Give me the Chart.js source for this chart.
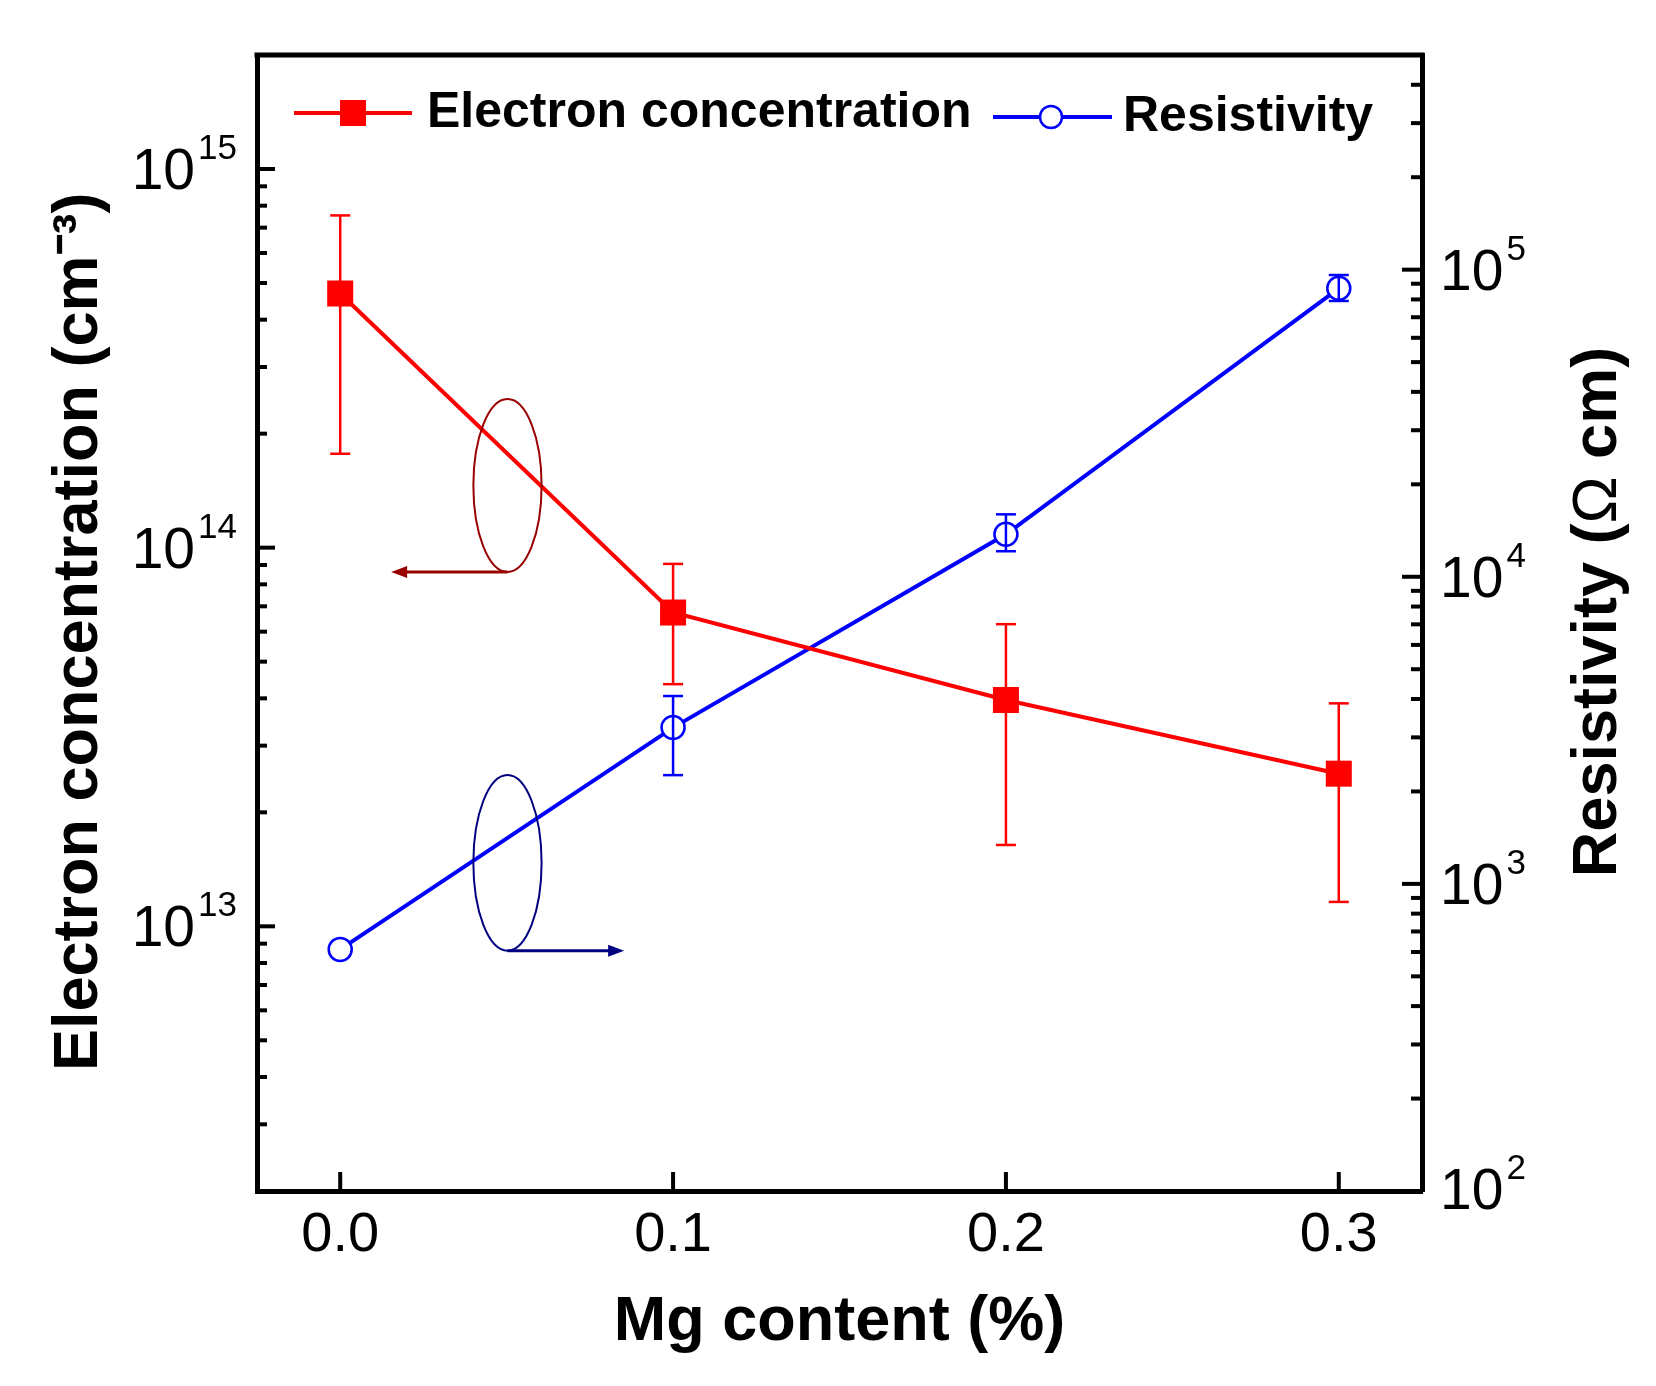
<!DOCTYPE html>
<html>
<head>
<meta charset="utf-8">
<script src="https://cdn.jsdelivr.net/npm/chart.js@4.4.0/dist/chart.umd.min.js"></script>
<style>
  html, body { margin: 0; padding: 0; background: #fff; }
  #wrap { width: 1656px; height: 1386px; position: relative; }
</style>
</head>
<body>
<div id="wrap"><canvas id="chart"></canvas></div>
<script>
// values
const mgContent = [0, 0.1, 0.2, 0.3];
const electronConc = [4.69e14, 6.74e13, 3.96e13, 2.53e13];
const electronErrLow = [1.77e14, 4.36e13, 1.64e13, 1.16e13];
const electronErrHigh = [7.54e14, 9.06e13, 6.28e13, 3.88e13];
const resistivity = [612, 3228, 13750, 86960];
const resistivityErrLow = [612, 2260, 12110, 79070];
const resistivityErrHigh = [612, 4090, 15970, 96070];
const xTicks = [0, 0.1, 0.2, 0.3];

const FONT = '"Liberation Sans", Arial, Helvetica, sans-serif';

// ellipse + arrow callouts, in data units
const callouts = [
    { axis: 'y', x0: 0.040, x1: 0.0605, yTop: 2.47e14, yBot: 8.63e13, arrowTo: 0.0153, color: '#990000' },
    { axis: 'y1', x0: 0.040, x1: 0.0605, yTop: 2262, yBot: 606, arrowTo: 0.0853, color: '#000080' }
];

function setLogTicks(scale) {
    const out = [];
    const lo = Math.floor(Math.log10(scale.min)), hi = Math.ceil(Math.log10(scale.max));
    for (let e = lo; e <= hi; e++) {
        for (let m = 1; m <= 9; m++) {
            const v = m * Math.pow(10, e);
            if (v > scale.min * 1.0001 && v < scale.max * 0.9999) out.push({ value: v, major: m === 1 });
        }
    }
    scale.ticks = out;
}

function drawPow(ctx, exp, x, y, align) {
    ctx.font = `57px ${FONT}`;
    const wb = ctx.measureText('10').width;
    ctx.font = `35px ${FONT}`;
    const we = ctx.measureText(String(exp)).width;
    const x0 = align === 'right' ? x - wb - 3 - we : x;
    ctx.textAlign = 'left';
    ctx.textBaseline = 'alphabetic';
    ctx.font = `57px ${FONT}`;
    ctx.fillText('10', x0, y + 20);
    ctx.font = `35px ${FONT}`;
    ctx.fillText(String(exp), x0 + wb + 3, y - 10);
}

function line(ctx, x1, y1, x2, y2) {
    ctx.beginPath();
    ctx.moveTo(x1, y1);
    ctx.lineTo(x2, y2);
    ctx.stroke();
}

const errorBars = {
    id: 'errorBars',
    afterDatasetsDraw(chart) {
        const ctx = chart.ctx;
        const xs = chart.scales.x;
        const sets = [
            { scale: chart.scales.y, lo: electronErrLow, hi: electronErrHigh, color: '#ff0000' },
            { scale: chart.scales.y1, lo: resistivityErrLow, hi: resistivityErrHigh, color: '#0000ff' }
        ];
        ctx.save();
        ctx.lineWidth = 2.5;
        sets.forEach(s => {
            ctx.strokeStyle = s.color;
            mgContent.forEach((m, i) => {
                if (s.lo[i] === s.hi[i]) return;
                const px = xs.getPixelForValue(m);
                const yl = s.scale.getPixelForValue(s.lo[i]);
                const yh = s.scale.getPixelForValue(s.hi[i]);
                line(ctx, px, yl, px, yh);
                line(ctx, px - 10, yl, px + 10, yl);
                line(ctx, px - 10, yh, px + 10, yh);
            });
        });

        // callouts
        callouts.forEach(c => {
            const ys = chart.scales[c.axis];
            const a = xs.getPixelForValue(c.x0), b = xs.getPixelForValue(c.x1);
            const t = ys.getPixelForValue(c.yTop), bt = ys.getPixelForValue(c.yBot);
            const cx = (a + b) / 2, cy = (t + bt) / 2;
            ctx.strokeStyle = c.color;
            ctx.fillStyle = c.color;
            ctx.lineWidth = 2;
            ctx.beginPath();
            ctx.ellipse(cx, cy, (b - a) / 2, (bt - t) / 2, 0, 0, Math.PI * 2);
            ctx.stroke();
            const tip = xs.getPixelForValue(c.arrowTo);
            const dir = tip < cx ? -1 : 1;
            ctx.lineWidth = 3;
            line(ctx, cx, bt, tip - dir * 12, bt);
            ctx.beginPath();
            ctx.moveTo(tip, bt);
            ctx.lineTo(tip - dir * 16, bt - 6);
            ctx.lineTo(tip - dir * 16, bt + 6);
            ctx.closePath();
            ctx.fill();
        });
        ctx.restore();
    }
};

const frame = {
    id: 'frame',
    afterDraw(chart) {
        const ctx = chart.ctx;
        const { left, right, top, bottom } = chart.chartArea;
        const xs = chart.scales.x, yl = chart.scales.y, yr = chart.scales.y1;
        ctx.save();
        ctx.strokeStyle = '#000';
        ctx.fillStyle = '#000';
        ctx.lineCap = 'butt';

        // top edge of the box
        ctx.lineWidth = 5;
        line(ctx, left - 2.5, top, right + 2.5, top);

        // inward ticks
        ctx.lineWidth = 4;
        xs.ticks.forEach(t => {
            const px = xs.getPixelForValue(t.value);
            line(ctx, px, bottom, px, bottom - 19);
        });
        yl.ticks.forEach(t => {
            const py = yl.getPixelForValue(t.value);
            line(ctx, left, py, left + (t.major ? 18 : 10), py);
        });
        yr.ticks.forEach(t => {
            const py = yr.getPixelForValue(t.value);
            line(ctx, right, py, right - (t.major ? 20 : 11), py);
        });

        // decade labels with superscripts
        yl.ticks.filter(t => t.major).forEach(t => {
            drawPow(ctx, Math.round(Math.log10(t.value)), left - 20, yl.getPixelForValue(t.value), 'right');
        });
        yr.ticks.filter(t => t.major).forEach(t => {
            drawPow(ctx, Math.round(Math.log10(t.value)), right + 18, yr.getPixelForValue(t.value), 'left');
        });
        drawPow(ctx, Math.round(Math.log10(yr.min)), right + 18, bottom - 2, 'left');

        // right axis title, reading bottom to top
        ctx.save();
        ctx.translate(1616, 612);
        ctx.rotate(-Math.PI / 2);
        const parts = [
            ['Resistivity (', `bold 63px ${FONT}`],
            ['\u03A9', `63px ${FONT}`],
            [' cm)', `bold 63px ${FONT}`]
        ];
        let total = 0;
        parts.forEach(p => { ctx.font = p[1]; total += ctx.measureText(p[0]).width; });
        let px = -total / 2;
        ctx.textAlign = 'left';
        ctx.textBaseline = 'alphabetic';
        parts.forEach(p => { ctx.font = p[1]; ctx.fillText(p[0], px, 0); px += ctx.measureText(p[0]).width; });
        ctx.restore();

        // legend inside the plot
        const ds = chart.data.datasets;
        ctx.lineWidth = 4;
        ctx.strokeStyle = ds[0].borderColor;
        line(ctx, 294, 113, 412, 113);
        ctx.fillStyle = ds[0].borderColor;
        ctx.fillRect(340, 100, 26, 26);
        ctx.strokeStyle = ds[1].borderColor;
        line(ctx, 993, 117, 1112, 117);
        ctx.beginPath();
        ctx.arc(1051, 117, 11, 0, Math.PI * 2);
        ctx.fillStyle = '#fff';
        ctx.fill();
        ctx.lineWidth = 2.5;
        ctx.stroke();
        ctx.fillStyle = '#000';
        ctx.font = `bold 50px ${FONT}`;
        ctx.textAlign = 'left';
        ctx.textBaseline = 'alphabetic';
        ctx.fillText(ds[0].label, 427, 127);
        ctx.fillText(ds[1].label, 1123, 131);
        ctx.restore();
    }
};

const ctx = document.getElementById('chart').getContext('2d');
new Chart(ctx, {
    type: 'line',
    data: {
        datasets: [
            {
                label: 'Electron concentration',
                data: mgContent.map((m, i) => ({ x: m, y: electronConc[i] })),
                yAxisID: 'y',
                borderColor: '#ff0000',
                backgroundColor: '#ff0000',
                borderWidth: 4,
                pointStyle: 'rect',
                pointRadius: 18.4,
                pointBorderWidth: 0,
                pointBackgroundColor: '#ff0000',
                tension: 0
            },
            {
                label: 'Resistivity',
                data: mgContent.map((m, i) => ({ x: m, y: resistivity[i] })),
                yAxisID: 'y1',
                borderColor: '#0000ff',
                backgroundColor: '#0000ff',
                borderWidth: 4,
                pointStyle: 'circle',
                pointRadius: 11.5,
                pointBorderWidth: 2.5,
                pointBackgroundColor: '#ffffff',
                tension: 0
            }
        ]
    },
    options: {
        responsive: true,
        maintainAspectRatio: false,
        animation: false,
        devicePixelRatio: 1,
        layout: { padding: { top: 55, left: 0, right: 0, bottom: 0 } },
        plugins: { legend: { display: false }, tooltip: { enabled: false } },
        scales: {
            x: {
                type: 'linear',
                min: -0.025,
                max: 0.325,
                afterBuildTicks: s => { s.ticks = xTicks.map(v => ({ value: v })); },
                afterFit: s => { s.height = 195; },
                grid: { display: false, drawTicks: false },
                border: { display: true, width: 5, color: '#000' },
                ticks: {
                    color: '#000',
                    font: { family: FONT, size: 56 },
                    padding: 11,
                    maxRotation: 0,
                    autoSkip: false,
                    callback: v => v.toFixed(1)
                },
                title: {
                    display: true,
                    text: 'Mg content (%)',
                    color: '#000',
                    font: { family: FONT, size: 63, weight: 'bold' },
                    padding: { top: 0, bottom: 26 }
                }
            },
            y: {
                type: 'logarithmic',
                position: 'left',
                min: 2e12,
                max: 2e15,
                afterBuildTicks: setLogTicks,
                afterFit: s => { s.width = 257; },
                grid: { display: false, drawTicks: false },
                border: { display: true, width: 5, color: '#000' },
                ticks: { display: false },
                title: {
                    display: true,
                    text: 'Electron concentration (cm\u207B\u00B3) ',
                    color: '#000',
                    font: { family: FONT, size: 63, weight: 'bold' },
                    padding: { top: 42, bottom: 0 }
                }
            },
            y1: {
                type: 'logarithmic',
                position: 'right',
                min: 100,
                max: 5e5,
                afterBuildTicks: setLogTicks,
                afterFit: s => { s.width = 234; },
                grid: { display: false, drawTicks: false },
                border: { display: true, width: 5, color: '#000' },
                ticks: { display: false },
                title: { display: false }
            }
        }
    },
    plugins: [errorBars, frame]
});
</script>
</body>
</html>
